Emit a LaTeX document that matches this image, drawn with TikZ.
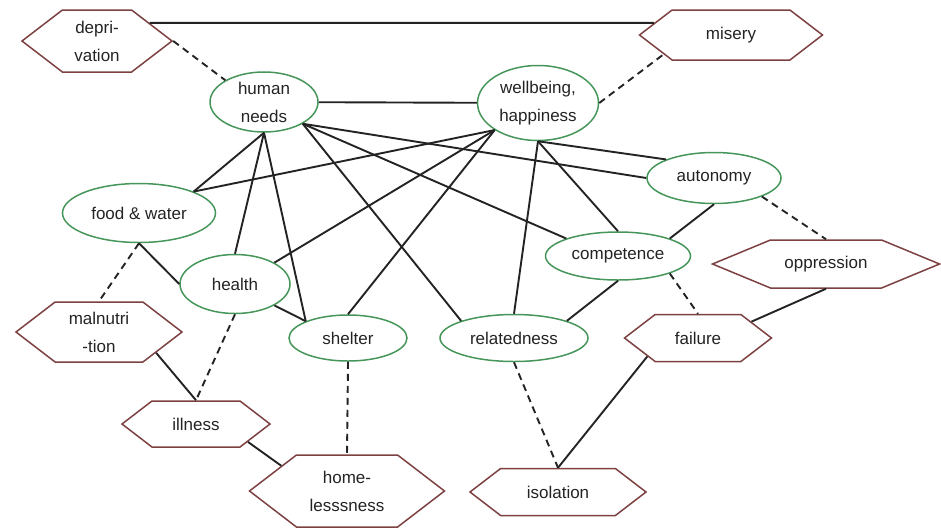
\documentclass[tikz,border=0pt]{standalone}
\usepackage{fontspec}
\setmainfont{Liberation Sans}
\usetikzlibrary{shapes.geometric,shapes.symbols}
\definecolor{needgreen}{RGB}{70,150,90}
\definecolor{lackred}{RGB}{125,65,65}
\definecolor{inkgray}{RGB}{35,35,35}
\begin{document}
\begin{tikzpicture}[x=1pt,y=-1pt,
 need/.style={ellipse,draw=needgreen,line width=1.5pt,inner sep=0pt,align=center,text=inkgray,font=\fontsize{17}{28}\selectfont},
 lack/.style={signal,signal to=west and east,signal pointer angle=75,draw=lackred,line width=1.5pt,inner sep=0pt,align=center,text=inkgray,font=\fontsize{17}{28}\selectfont},
 link/.style={draw=inkgray,line width=1.9pt},
 weak/.style={link,dash pattern=on 7pt off 5pt}]
 \useasboundingbox (0,0) rectangle (941,528);
 \node[need,minimum width=108,minimum height=60] (needs) at (264,102) {human\\needs};
 \node[need,minimum width=121,minimum height=75] (wellbeing) at (538,103) {wellbeing,\\happiness};
 \node[need,minimum width=153,minimum height=59] (food) at (139,213) {food \& water};
 \node[need,minimum width=110,minimum height=59] (health) at (235,284) {health};
 \node[need,minimum width=118,minimum height=46] (shelter) at (348,338) {shelter};
 \node[need,minimum width=148,minimum height=47] (related) at (514,338) {relatedness};
 \node[need,minimum width=145,minimum height=48] (competence) at (618,256) {competence};
 \node[need,minimum width=134,minimum height=51] (autonomy) at (714,178) {autonomy};
 \node[lack,minimum width=150,minimum height=62] (depr) at (97,41) {depri-\\vation};
 \node[lack,minimum width=183,minimum height=50] (misery) at (731,35) {misery};
 \node[lack,minimum width=166,minimum height=60] (maln) at (99,332) {malnutri\\-tion};
 \node[lack,minimum width=148,minimum height=46] (illness) at (196,424) {illness};
 \node[lack,minimum width=195,minimum height=72] (homeless) at (347,491) {home-\\lesssness};
 \node[lack,minimum width=227,minimum height=48,signal pointer angle=45] (oppression) at (826,264) {oppression};
 \node[lack,minimum width=147,minimum height=47] (failure) at (698,338) {failure};
 \node[lack,minimum width=176,minimum height=47] (isolation) at (558,492) {isolation};
 \draw[link] (depr.19) -- (misery.171);
 \draw[link] (needs) -- (wellbeing);
 \draw[weak] (depr.east) -- (needs.north west);
 \draw[weak] (wellbeing.east) -- (misery.196);
 \draw[link] (needs.south) -- (food.north east);
 \draw[link] (needs.south) -- (health.north);
 \draw[link] (needs.south) -- (shelter.north west);
 \draw[link] (needs.south east) -- (related.north west);
 \draw[link] (needs.south east) -- (competence.north west);
 \draw[link] (needs.south east) -- (autonomy.west);
 \draw[link] (wellbeing.south west) -- (food.north east);
 \draw[link] (wellbeing.south west) -- (health.north east);
 \draw[link] (wellbeing.south west) -- (shelter.north);
 \draw[link] (wellbeing.south) -- (related.north);
 \draw[link] (wellbeing.south) -- (competence.north);
 \draw[link] (wellbeing.south) -- (autonomy.north west);
 \draw[link] (food.south) -- (health.west);
 \draw[weak] (food.south) -- (maln.north);
 \draw[link] (health.south east) -- (shelter.north west);
 \draw[weak] (health.south) -- (illness.north);
 \draw[link] (maln.-20) -- (illness.north);
 \draw[link] (illness.-19) -- (homeless.159);
 \draw[weak] (shelter.south) -- (homeless.north);
 \draw[link] (related.north east) -- (competence.south);
 \draw[weak] (related.south) -- (isolation.north);
 \draw[weak] (competence.south east) -- (failure.north);
 \draw[link] (competence.north east) -- (autonomy.south);
 \draw[weak] (autonomy.south east) -- (oppression.north);
 \draw[link] (failure.17) -- (oppression.south);
 \draw[link] (failure.200) -- (isolation.north);
\end{tikzpicture}
\end{document}
